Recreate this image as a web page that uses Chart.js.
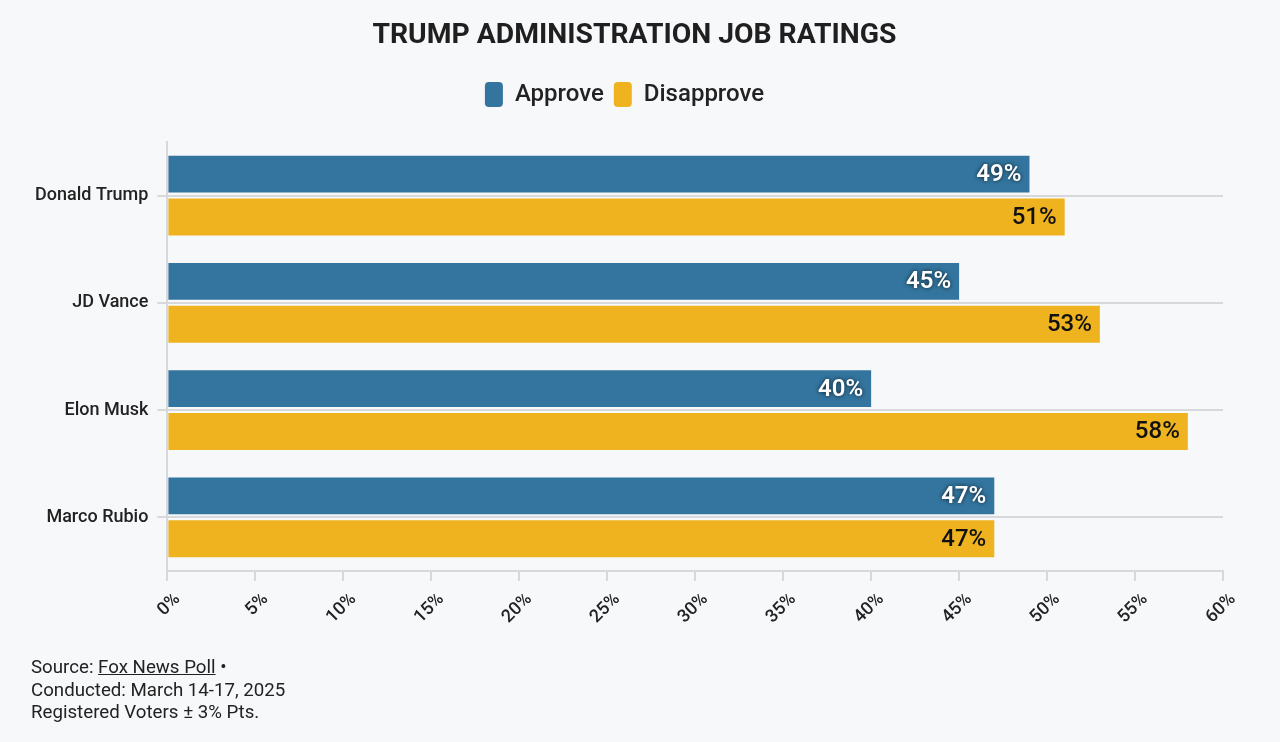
<!DOCTYPE html>
<html>
<head>
<meta charset="utf-8">
<script src="https://cdn.jsdelivr.net/npm/chart.js@4"></script>
<style>
  html, body { margin: 0; padding: 0; background: #f7f8fa; }
  #wrap { position: relative; width: 1280px; height: 742px; }
  #title {
    position: absolute; left: 0; top: 17px; width: 1269px; text-align: center;
    font-family: Roboto, sans-serif; font-weight: bold; font-size: 28.3px; line-height: 34px; color: #1f1f1f;
  }
  #source {
    position: absolute; left: 31px; top: 656px;
    font-family: Roboto, sans-serif; font-size: 18.7px; line-height: 22.5px; color: #222;
  }
  #source a { color: #222; text-decoration: underline; }
</style>
</head>
<body>
<div id="wrap">
  <canvas id="chart" width="1280" height="742"></canvas>
  <div id="title">TRUMP ADMINISTRATION JOB RATINGS</div>
  <div id="source">
    Source: <a href="#">Fox News Poll</a> •<br>
    Conducted: March 14-17, 2025<br>
    Registered Voters ± 3% Pts.
  </div>
</div>
<script>
const people = ['Donald Trump', 'JD Vance', 'Elon Musk', 'Marco Rubio'];
const approve = [49, 45, 40, 47];
const disapprove = [51, 53, 58, 47];
const xTicks = [0, 5, 10, 15, 20, 25, 30, 35, 40, 45, 50, 55, 60];

// value labels at the end of each bar
const barLabels = {
  id: 'barLabels',
  afterDatasetsDraw(chart) {
    const ctx = chart.ctx;
    ctx.save();
    ctx.textAlign = 'right';
    ctx.textBaseline = 'middle';
    chart.data.datasets.forEach((ds, i) => {
      chart.getDatasetMeta(i).data.forEach((bar, j) => {
        const txt = ds.data[j] + '%';
        const x = bar.x - 8, y = bar.y + 1;
        if (i === 0) {
          ctx.font = '600 24px Roboto, sans-serif';
          ctx.shadowColor = 'rgba(0,0,0,0.75)';
          ctx.shadowBlur = 4;
          ctx.fillStyle = '#ffffff';
        } else {
          ctx.font = '500 24px Roboto, sans-serif';
          ctx.shadowBlur = 0;
          ctx.shadowColor = 'transparent';
          ctx.fillStyle = '#111111';
        }
        ctx.fillText(txt, x, y);
      });
    });
    ctx.restore();
  }
};

// extra room under the legend
const legendGap = {
  id: 'legendGap',
  beforeInit(chart) {
    const fit = chart.legend.fit;
    chart.legend.fit = function () {
      fit.bind(chart.legend)();
      this.height += 25;
    };
  }
};

const ctx = document.getElementById('chart').getContext('2d');

const chart = new Chart(ctx, {
  type: 'bar',
  data: {
    labels: people,
    datasets: [{
      label: 'Approve',
      data: approve,
      backgroundColor: '#33759f'
    }, {
      label: 'Disapprove',
      data: disapprove,
      backgroundColor: '#efb320'
    }]
  },
  options: {
    indexAxis: 'y',
    responsive: false,
    animation: false,
    categoryPercentage: 0.8,
    barPercentage: 0.86,
    layout: { padding: { left: 26, right: 57, top: 72, bottom: 106 } },
    scales: {
      x: {
        min: 0,
        max: 60,
        afterBuildTicks(axis) {
          axis.ticks = xTicks.map(v => ({ value: v }));
        },
        ticks: {
          callback: v => v + '%',
          maxRotation: 45,
          minRotation: 45,
          labelOffset: 10,
          padding: 8,
          color: '#222',
          font: { family: 'Roboto, sans-serif', size: 18, weight: '500' }
        },
        grid: { drawOnChartArea: false, color: '#d6d8db', lineWidth: 2, tickLength: 10 },
        border: { color: '#d6d8db', width: 2 }
      },
      y: {
        ticks: {
          color: '#222',
          font: { family: 'Roboto, sans-serif', size: 18, weight: '500' },
          padding: 9
        },
        grid: { offset: false, color: '#d6d8db', lineWidth: 2, tickLength: 10 },
        border: { color: '#d6d8db', width: 2 }
      }
    },
    plugins: {
      title: { display: false },
      legend: {
        position: 'top',
        labels: {
          color: '#222',
          font: { family: 'Roboto, sans-serif', size: 24, weight: '500' },
          boxWidth: 18,
          boxHeight: 25,
          useBorderRadius: true,
          borderRadius: 4,
          padding: 10
        }
      },
      tooltip: { enabled: false }
    }
  },
  plugins: [barLabels, legendGap]
});
</script>
</body>
</html>
